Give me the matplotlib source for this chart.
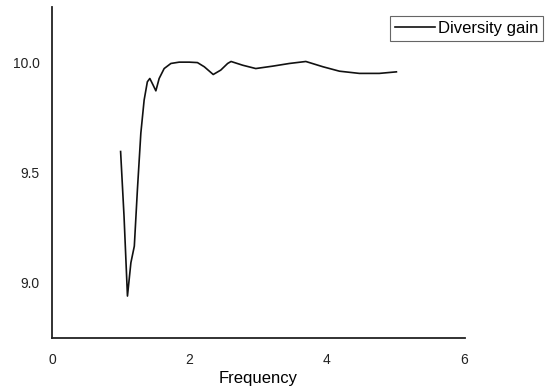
import matplotlib
matplotlib.use('Agg')
import matplotlib.pyplot as plt

plt.rcParams['font.family'] = ['Liberation Sans', 'DejaVu Sans']

# Diversity gain vs frequency
freq = [1.00, 1.05, 1.10, 1.15, 1.20, 1.245, 1.295, 1.343, 1.39, 1.426,
        1.474, 1.514, 1.562, 1.635, 1.733, 1.854, 2.00, 2.12, 2.22, 2.35,
        2.46, 2.56, 2.61, 2.78, 2.97, 3.22, 3.46, 3.70, 3.95, 4.19,
        4.48, 4.77, 5.02]
gain = [9.595, 9.302, 8.940, 9.091, 9.166, 9.422, 9.678, 9.828, 9.911, 9.926,
        9.896, 9.870, 9.926, 9.971, 9.994, 10.0, 10.0, 9.998, 9.979, 9.944,
        9.964, 9.994, 10.003, 9.986, 9.971, 9.982, 9.994, 10.003, 9.979, 9.959,
        9.949, 9.949, 9.956]

xticks = [0, 2, 4, 6]
yticks = [9.0, 9.5, 10.0]

fig = plt.figure(figsize=(5.49, 3.92), dpi=100)
ax = fig.add_axes([0.0947, 0.1378, 0.7523, 0.8444])

line, = ax.plot(freq, gain, color='#111111', lw=1.2, label='Diversity gain')

ax.set_xlim(0, 6.02)
ax.set_ylim(8.75, 10.25)
ax.set_xticks(xticks)
ax.set_xticklabels([str(t) for t in xticks])
ax.set_yticks(yticks)
ax.set_yticklabels(['%.1f' % t for t in yticks])
ax.tick_params(length=0, labelsize=10, colors='#222222')
ax.tick_params(axis='x', pad=11)
ax.tick_params(axis='y', pad=9)

for s in ['top', 'right']:
    ax.spines[s].set_visible(False)
for s in ['left', 'bottom']:
    ax.spines[s].set_linewidth(1.3)
    ax.spines[s].set_color('#222222')

ax.set_xlabel('Frequency', fontsize=12, labelpad=3)

leg = fig.legend(handles=[line], loc='upper right',
                 bbox_to_anchor=(543 / 549, (392 - 16) / 392),
                 bbox_transform=fig.transFigure,
                 fancybox=False, shadow=False, framealpha=1,
                 edgecolor='#666666', fontsize=12,
                 handlelength=2.4, handletextpad=0.15,
                 borderpad=0.3, borderaxespad=0)
leg.get_frame().set_linewidth(0.8)

fig.savefig('out.png', dpi=100)
